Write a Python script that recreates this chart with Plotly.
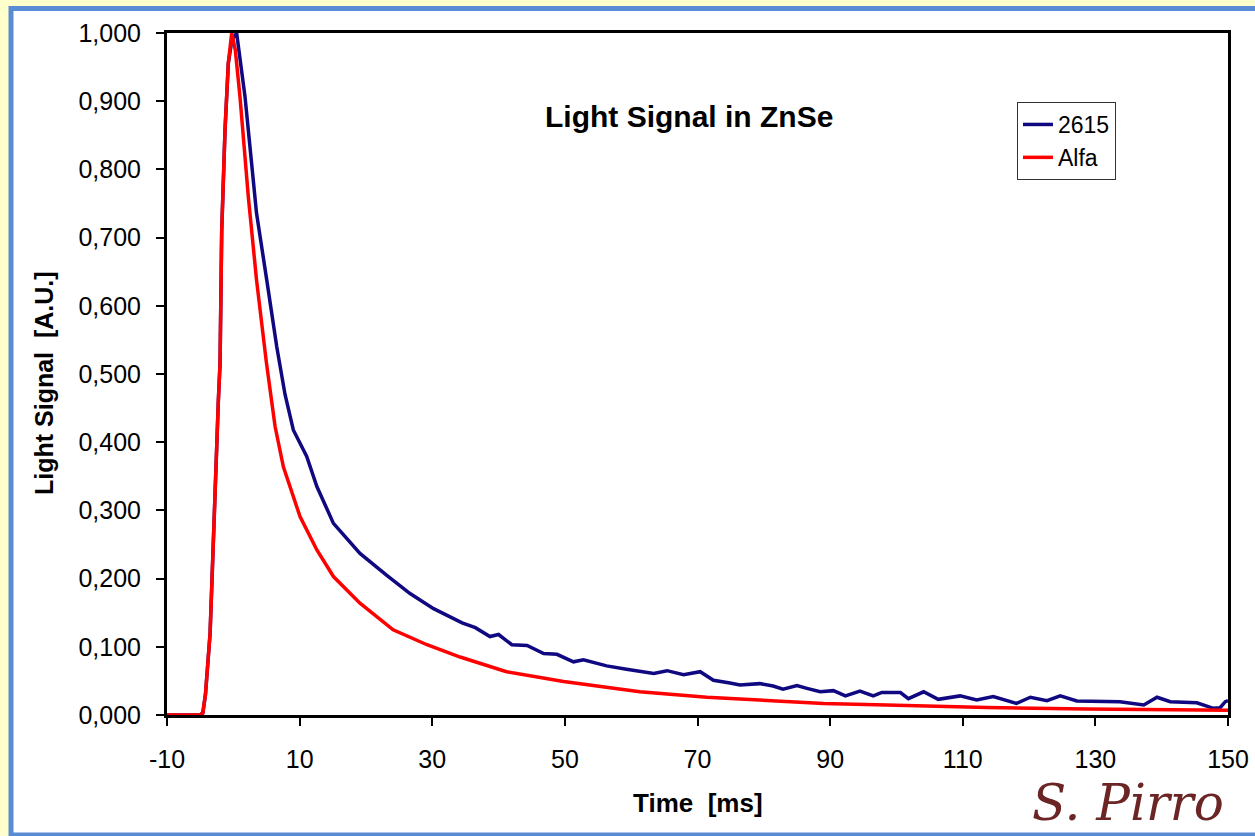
import plotly.graph_objects as go

# ---- data ----
alfa_t = [-10, -5.0, -4.6, -4.2, -3.5, -3.0, -2.6, -2.26, -2.0, -1.75, -1.25, -0.75, -0.24,
          0.3, 1.0, 2.26, 3.5, 5.0, 6.3, 7.55, 10.06, 12.6, 15.1, 19.1, 24.1, 29.2, 34.2,
          41.2, 49.8, 61.3, 71.4, 81.4, 89, 98.5, 113.6, 128.7, 140, 150]
alfa_v = [0, 0, 0.003, 0.03, 0.12, 0.267, 0.37, 0.46, 0.516, 0.71, 0.858, 0.956, 1.0,
          0.975, 0.907, 0.76, 0.638, 0.516, 0.423, 0.364, 0.291, 0.242, 0.203, 0.164, 0.125,
          0.103, 0.085, 0.0635, 0.049, 0.034, 0.026, 0.021, 0.017, 0.0147, 0.011, 0.0088,
          0.008, 0.007]

s2615_t = [-10, -5.0, -4.6, -4.2, -3.5, -3.0, -2.6, -2.26, -2.0, -1.75, -1.25, -0.75, -0.2,
           0.5, 1.76, 2.5, 3.5, 5.04, 6.55, 7.8, 9.05, 11.07, 12.6, 15.1, 19.1, 23.1, 26.65,
           30.2, 32.5, 34.5, 36.5, 38.7, 40, 42, 44.3, 46.8, 48.8, 51.3, 52.8, 56.3, 59.3,
           63.4, 65.4, 67.9, 70.4, 72.4, 74.9, 76.4, 79.4, 81.4, 82.9, 85, 86.5, 88.5, 90.5,
           92.3, 94.5, 96.5, 97.8, 100.6, 101.8, 104.1, 106.3, 109.6, 112.1, 114.6, 118.1,
           120.2, 122.7, 124.7, 127.2, 130.2, 133.7, 137.3, 139.3, 141.3, 145.3, 147.8,
           148.8, 149.6, 150]
s2615_v = [0, 0, 0.003, 0.03, 0.12, 0.267, 0.37, 0.46, 0.516, 0.71, 0.858, 0.956, 0.99,
           1.0, 0.907, 0.833, 0.736, 0.638, 0.54, 0.47, 0.418, 0.379, 0.335, 0.281, 0.237,
           0.205, 0.178, 0.156, 0.145, 0.135, 0.128, 0.115, 0.118, 0.103, 0.102, 0.090,
           0.089, 0.078, 0.081, 0.072, 0.067, 0.061, 0.065, 0.059, 0.0635, 0.051, 0.047,
           0.044, 0.046, 0.0425, 0.038, 0.043, 0.039, 0.034, 0.0357, 0.028, 0.035, 0.028,
           0.033, 0.033, 0.024, 0.034, 0.023, 0.028, 0.022, 0.027, 0.017, 0.026, 0.021,
           0.028, 0.0205, 0.0205, 0.0195, 0.0147, 0.026, 0.0195, 0.018, 0.0098, 0.0107,
           0.0195, 0.021]

x_ticks = [-10, 10, 30, 50, 70, 90, 110, 130, 150]
x_tick_labels = ["-10", "10", "30", "50", "70", "90", "110", "130", "150"]
y_ticks = [0, 0.1, 0.2, 0.3, 0.4, 0.5, 0.6, 0.7, 0.8, 0.9, 1.0]

# ---- layout geometry (pixels) ----
W, H = 1255, 836
L, R, T, B = 167, 1228, 33, 715


def px(x):
    return (x - L) / (R - L)


def py(y):
    return (B - y) / (B - T)


FONT = "Liberation Sans, Arial, sans-serif"

fig = go.Figure()
fig.add_trace(go.Scatter(x=s2615_t, y=s2615_v, mode="lines", name="2615",
                         line=dict(color="#100880", width=3.5)))
fig.add_trace(go.Scatter(x=alfa_t, y=alfa_v, mode="lines", name="Alfa",
                         line=dict(color="#FF0000", width=3.5)))

fig.update_layout(
    width=W, height=H,
    margin=dict(l=L, r=W - R, t=T, b=H - B, autoexpand=False),
    paper_bgcolor="#FFFFCC",
    plot_bgcolor="white",
    separators=",.",
    font=dict(family=FONT, color="black", size=24),
    showlegend=True,
    legend=dict(x=px(1017), y=py(102), xanchor="left", yanchor="top",
                bgcolor="white", bordercolor="#333333", borderwidth=1,
                font=dict(family=FONT, size=23, color="black"),
                tracegroupgap=0),
    xaxis=dict(range=[-10, 150], tickvals=x_ticks, ticktext=x_tick_labels,
               ticks="outside", ticklen=8, automargin=False,
               tickwidth=2, tickcolor="black", showline=True, linecolor="black",
               linewidth=3, mirror=True, showgrid=False, zeroline=False,
               tickfont=dict(family=FONT, size=25, color="black"),
               ticklabelstandoff=12),
    yaxis=dict(range=[0, 1], tickvals=y_ticks, tickformat=".3f", ticks="outside",
               ticklen=8, tickwidth=2, tickcolor="black", showline=True,
               linecolor="black", linewidth=3, mirror=True, showgrid=False,
               automargin=False,
               zeroline=False, tickfont=dict(family=FONT, size=25, color="black"),
               ticklabelstandoff=10),
    shapes=[
        dict(type="rect", xref="paper", yref="paper", layer="below",
             x0=px(11), x1=px(1265), y0=py(835), y1=py(8.5),
             fillcolor="white", line=dict(color="#5A8BD5", width=5)),
    ],
    annotations=[
        dict(text="<b>Light Signal in ZnSe</b>", xref="paper", yref="paper",
             x=px(689), y=py(116), xanchor="center", yanchor="middle",
             showarrow=False, font=dict(family=FONT, size=30, color="black")),
        dict(text="<b>Light Signal\u00a0 [A.U.]</b>", xref="paper", yref="paper",
             x=px(44), y=py(383), xanchor="center", yanchor="middle", textangle=-90,
             showarrow=False, font=dict(family=FONT, size=25, color="black")),
        dict(text="<b>Time\u00a0 [ms]</b>", xref="paper", yref="paper",
             x=px(698), y=py(803), xanchor="center", yanchor="middle",
             showarrow=False, font=dict(family=FONT, size=26, color="black")),
        dict(text="<i>S. Pirro</i>", xref="paper", yref="paper",
             x=px(1128), y=py(803), xanchor="center", yanchor="middle",
             showarrow=False,
             font=dict(family="DejaVu Serif, Liberation Serif, serif", size=50,
                       color="#6B2525")),
    ],
)

fig.write_html("out.html")
